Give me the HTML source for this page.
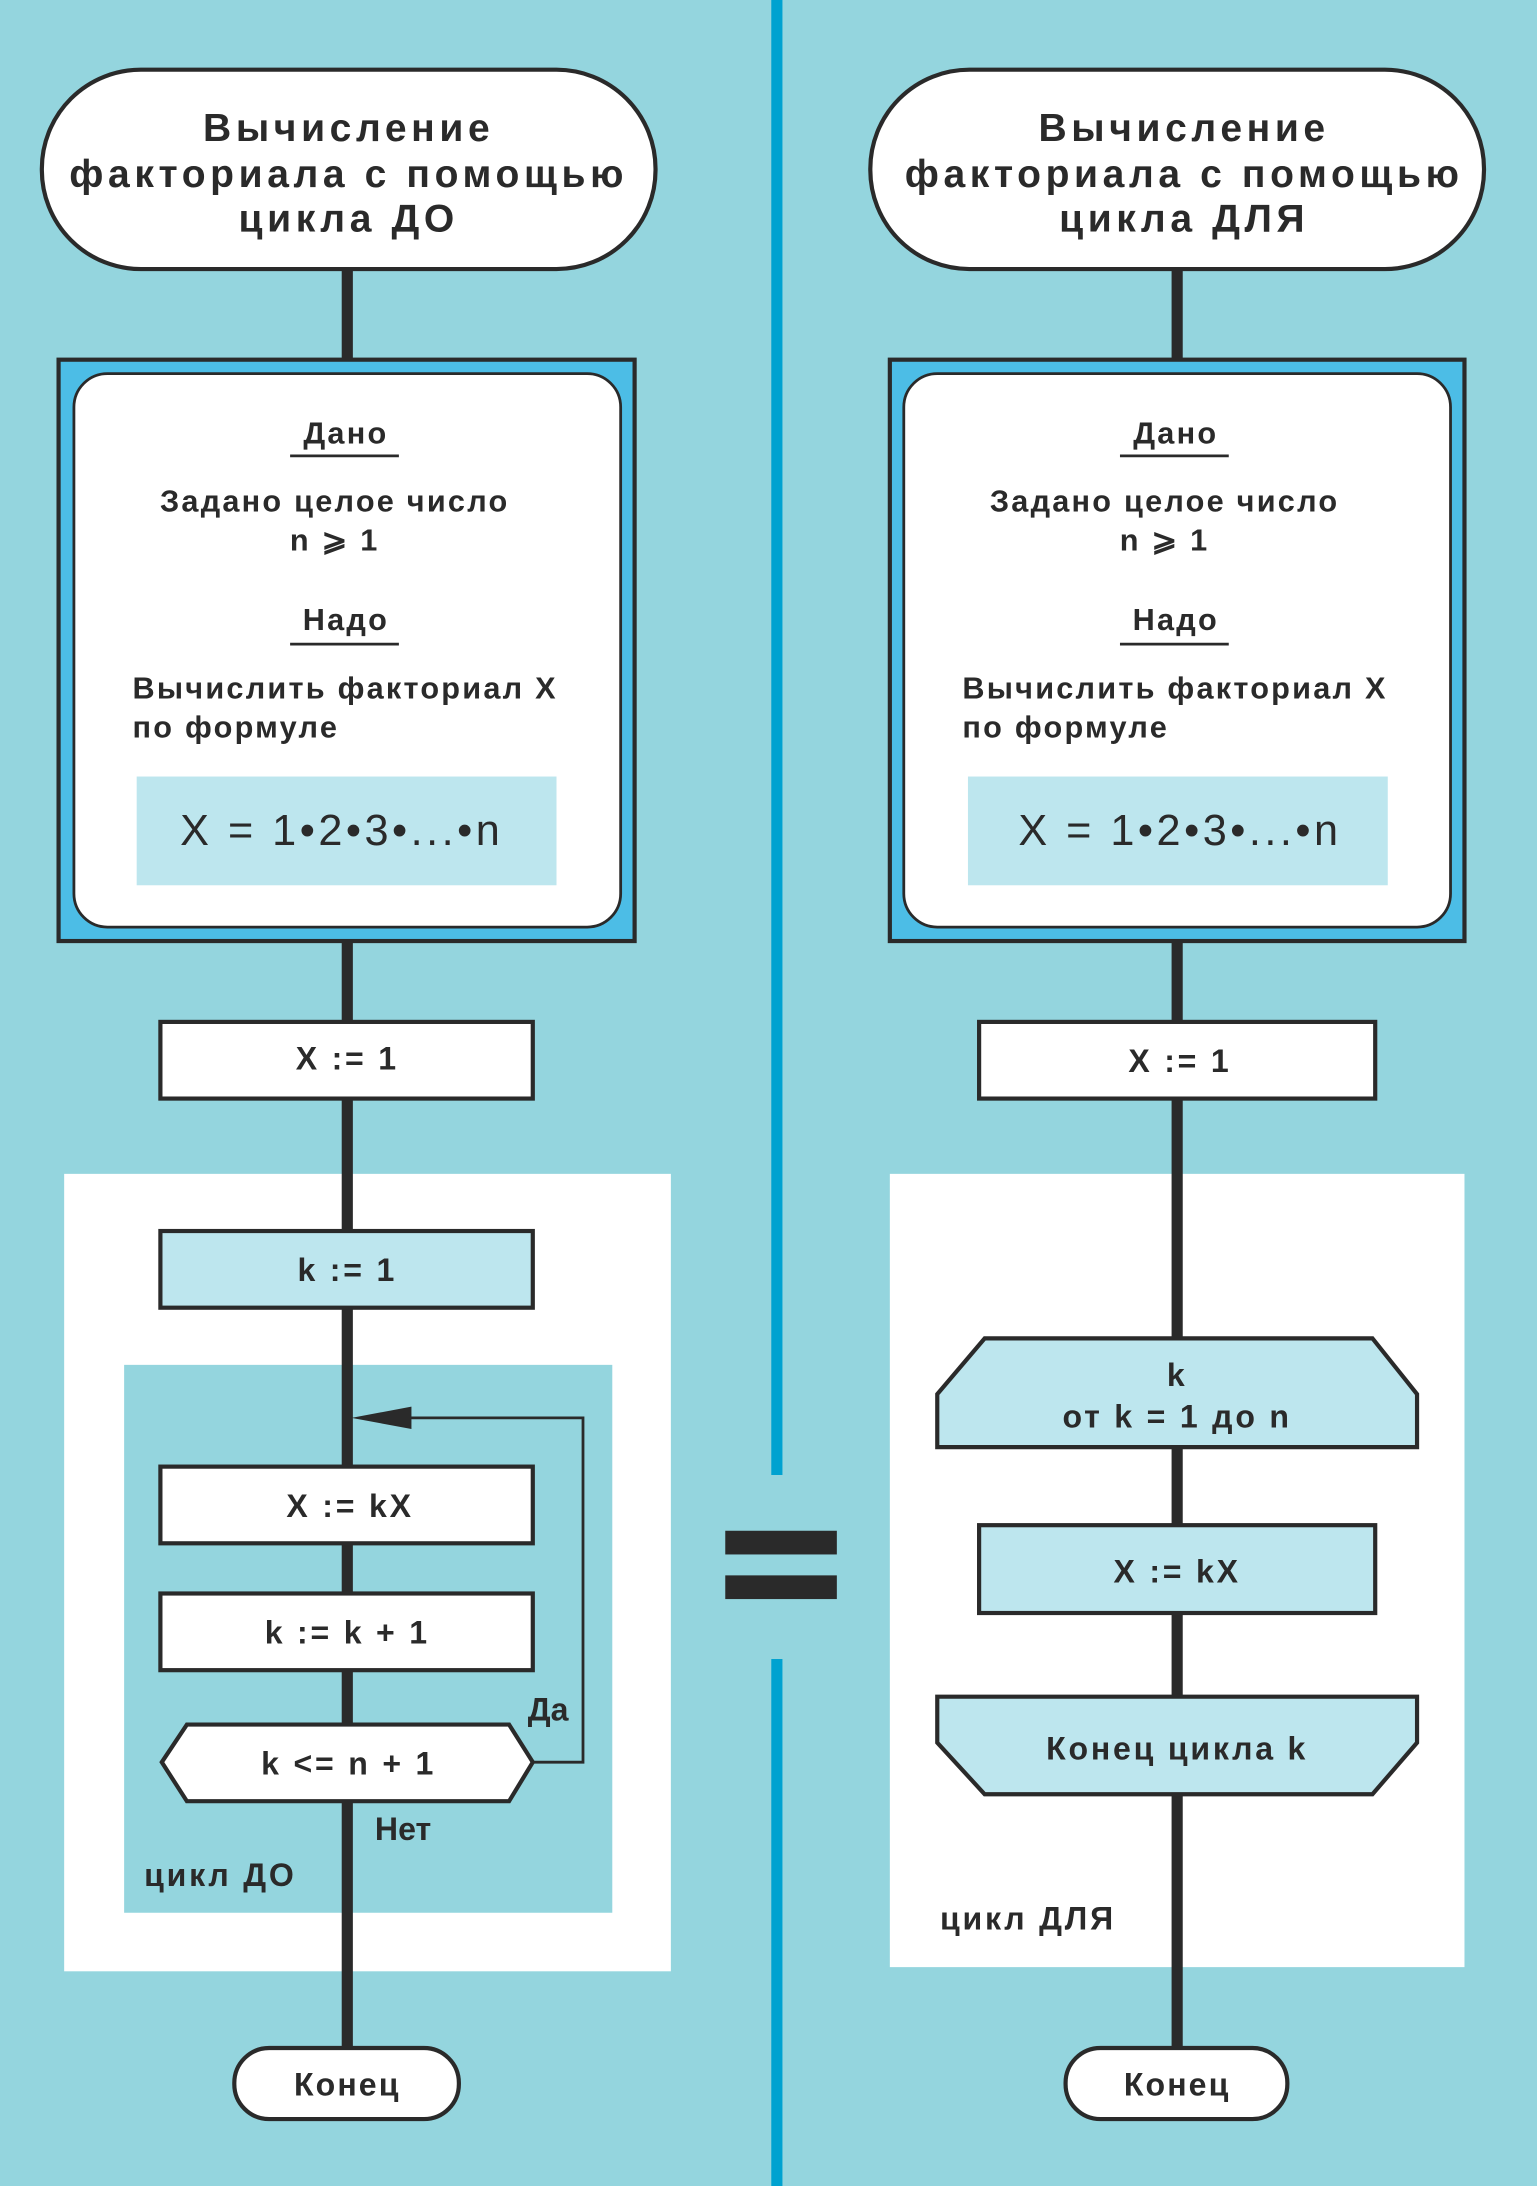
<!DOCTYPE html>
<html><head><meta charset="utf-8"><style>
html,body{margin:0;padding:0;background:#94d5de;}
svg{display:block}
text{font-family:"Liberation Sans",sans-serif;fill:#2a2a2a;}
</style></head><body>
<svg width="1537" height="2186" viewBox="0 0 1102 1568" preserveAspectRatio="none" xmlns="http://www.w3.org/2000/svg">
<rect x="0" y="0" width="1102" height="1568" fill="#94d5de"/>
<rect x="553" y="0" width="8" height="1058" fill="#00a2d0"/>
<rect x="553" y="1190" width="8" height="378" fill="#00a2d0"/>
<rect x="520" y="1098" width="80" height="17" fill="#2a2a2a"/>
<rect x="520" y="1130" width="80" height="17" fill="#2a2a2a"/>

<!-- LEFT -->
<rect x="46" y="842" width="435" height="572" fill="#fff"/>
<rect x="89" y="979" width="350" height="393" fill="#94d5de"/>
<line x1="249" y1="190" x2="249" y2="1470" stroke="#2a2a2a" stroke-width="8"/>
<rect x="30" y="50" width="440" height="143" rx="71" fill="#fff" stroke="#2a2a2a" stroke-width="3"/>
<g font-weight="bold" font-size="28" text-anchor="middle" letter-spacing="3.3">
<text x="250" y="101">Вычисление</text>
<text x="250" y="134">факториала с помощью</text>
<text x="250" y="166">цикла ДО</text>
</g>
<rect x="42" y="258" width="413" height="417" fill="#4cbde6" stroke="#2a2a2a" stroke-width="3"/>
<rect x="53" y="268" width="392" height="397" rx="24" fill="#fff" stroke="#2a2a2a" stroke-width="2"/>
<g font-size="22" font-weight="bold" letter-spacing="1.6">
<text x="248" y="318" text-anchor="middle">Дано</text>
<line x1="208" y1="327" x2="286" y2="327" stroke="#2a2a2a" stroke-width="2"/>
<text x="240" y="367" text-anchor="middle">Задано целое число</text>
<text x="240" y="395" text-anchor="middle">n ⩾ 1</text>
<text x="248" y="452" text-anchor="middle">Надо</text>
<line x1="208" y1="462" x2="286" y2="462" stroke="#2a2a2a" stroke-width="2"/>
<text x="95" y="501">Вычислить факториал X</text>
<text x="95" y="529">по формуле</text>
</g>
<rect x="98" y="557" width="301" height="78" fill="#bde6ee"/>
<text x="245" y="606" font-size="31" text-anchor="middle" letter-spacing="2.5">X = 1•2•3•...•n</text>

<g stroke="#2a2a2a" stroke-width="3">
<rect x="115" y="733" width="267" height="55" fill="#fff"/>
<rect x="115" y="883" width="267" height="55" fill="#bde6ee"/>
<rect x="115" y="1052" width="267" height="55" fill="#fff"/>
<rect x="115" y="1143" width="267" height="55" fill="#fff"/>
<polygon points="134,1237 365,1237 382,1264 365,1292 134,1292 116,1264" fill="#fff"/>
</g>
<polyline points="382,1264 418,1264 418,1017 290,1017" fill="none" stroke="#2a2a2a" stroke-width="2"/>
<polygon points="252,1017 295,1009 295,1025" fill="#2a2a2a"/>
<g font-size="23" font-weight="bold" text-anchor="middle" letter-spacing="2">
<text x="249" y="767">X := 1</text>
<text x="249" y="919">k := 1</text>
<text x="251" y="1088">X := kX</text>
<text x="249" y="1179">k := k + 1</text>
<text x="250" y="1273">k &lt;= n + 1</text>
<text x="393" y="1234" letter-spacing="0">Да</text>
<text x="289" y="1320" letter-spacing="0">Нет</text>
<text x="158" y="1353">цикл ДО</text>
</g>
<rect x="168" y="1469" width="161" height="51" rx="25" fill="#fff" stroke="#2a2a2a" stroke-width="3"/>
<text x="249" y="1503" font-size="23" font-weight="bold" text-anchor="middle" letter-spacing="1.5">Конец</text>

<!-- RIGHT -->
<rect x="638" y="842" width="412" height="569" fill="#fff"/>
<line x1="844" y1="190" x2="844" y2="1470" stroke="#2a2a2a" stroke-width="8"/>
<rect x="624" y="50" width="440" height="143" rx="71" fill="#fff" stroke="#2a2a2a" stroke-width="3"/>
<g font-weight="bold" font-size="28" text-anchor="middle" letter-spacing="3.3">
<text x="849" y="101">Вычисление</text>
<text x="849" y="134">факториала с помощью</text>
<text x="849" y="166">цикла ДЛЯ</text>
</g>
<rect x="638" y="258" width="412" height="417" fill="#4cbde6" stroke="#2a2a2a" stroke-width="3"/>
<rect x="648" y="268" width="392" height="397" rx="24" fill="#fff" stroke="#2a2a2a" stroke-width="2"/>
<g font-size="22" font-weight="bold" letter-spacing="1.6">
<text x="843" y="318" text-anchor="middle">Дано</text>
<line x1="803" y1="327" x2="881" y2="327" stroke="#2a2a2a" stroke-width="2"/>
<text x="835" y="367" text-anchor="middle">Задано целое число</text>
<text x="835" y="395" text-anchor="middle">n ⩾ 1</text>
<text x="843" y="452" text-anchor="middle">Надо</text>
<line x1="803" y1="462" x2="881" y2="462" stroke="#2a2a2a" stroke-width="2"/>
<text x="690" y="501">Вычислить факториал X</text>
<text x="690" y="529">по формуле</text>
</g>
<rect x="694" y="557" width="301" height="78" fill="#bde6ee"/>
<text x="846" y="606" font-size="31" text-anchor="middle" letter-spacing="2.5">X = 1•2•3•...•n</text>

<g stroke="#2a2a2a" stroke-width="3">
<rect x="702" y="733" width="284" height="55" fill="#fff"/>
<polygon points="706,960 984,960 1016,1000 1016,1038 672,1038 672,1000" fill="#bde6ee"/>
<rect x="702" y="1094" width="284" height="63" fill="#bde6ee"/>
<polygon points="672,1217 1016,1217 1016,1250 984,1287 706,1287 672,1250" fill="#bde6ee"/>
</g>
<g font-size="23" font-weight="bold" text-anchor="middle" letter-spacing="2">
<text x="846" y="769">X := 1</text>
<text x="844" y="994">k</text>
<text x="844" y="1024">от k = 1 до n</text>
<text x="844" y="1135">X := kX</text>
<text x="844" y="1262">Конец цикла k</text>
<text x="674" y="1384" text-anchor="start">цикл ДЛЯ</text>
</g>
<rect x="764" y="1469" width="159" height="51" rx="25" fill="#fff" stroke="#2a2a2a" stroke-width="3"/>
<text x="844" y="1503" font-size="23" font-weight="bold" text-anchor="middle" letter-spacing="1.5">Конец</text>
</svg>
</body></html>
